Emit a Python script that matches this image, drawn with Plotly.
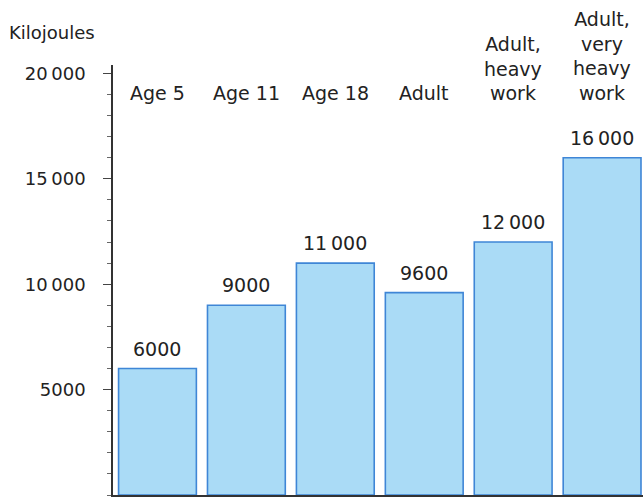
import plotly.graph_objects as go

categories = ["Age 5", "Age 11", "Age 18", "Adult", "Adult,<br>heavy<br>work", "Adult,<br>very<br>heavy<br>work"]
values = [6000, 9000, 11000, 9600, 12000, 16000]
value_labels = ["6000", "9000", "11\u2009000", "9600", "12\u2009000", "16\u2009000"]
tick_vals = [5000, 10000, 15000, 20000]
tick_text = ["5000", "10\u2009000", "15\u2009000", "20\u2009000"]

FONT = "DejaVu Sans"
TXT = "#222222"
xs = list(range(len(categories)))

fig = go.Figure()
fig.add_trace(go.Bar(
    x=xs, y=values, width=0.875,
    marker=dict(color="#aadbf6", line=dict(color="#3f86d6", width=1.6)),
    hoverinfo="skip",
))

for i, (v, lab) in enumerate(zip(values, value_labels)):
    fig.add_annotation(x=i, y=v, text=lab, showarrow=False, yanchor="bottom",
                       yshift=7, font=dict(family=FONT, size=19, color=TXT))

for i, c in enumerate(categories):
    fig.add_annotation(x=i, y=18450, text=c, showarrow=False, yanchor="bottom",
                       font=dict(family=FONT, size=19, color=TXT))

fig.add_annotation(xref="paper", yref="paper", x=-0.2, y=1.0, yshift=20,
                   text="Kilojoules", showarrow=False, xanchor="left", yanchor="bottom",
                   font=dict(family=FONT, size=18, color=TXT))

fig.update_layout(
    width=643, height=499,
    margin=dict(l=113, r=0, t=65, b=4),
    paper_bgcolor="white", plot_bgcolor="white",
    showlegend=False,
    font=dict(family=FONT, size=18, color=TXT),
    xaxis=dict(range=[-0.5, 5.46], showticklabels=False, ticks="", showgrid=False,
               zeroline=False, showline=True, linecolor="#333333", linewidth=2),
    yaxis=dict(range=[0, 20400], tickvals=tick_vals, ticktext=tick_text,
               ticks="outside", ticklen=8, tickwidth=1, tickcolor="#444444",
               ticklabelstandoff=14,
               minor=dict(dtick=1000, ticks="outside", ticklen=4, tickcolor="#666666", tickwidth=1),
               showgrid=False, zeroline=False, showline=True, linecolor="#333333", linewidth=1.5,
               tickfont=dict(family=FONT, size=18, color=TXT)),
)

fig.write_html("out.html", config={"displayModeBar": False},
               post_script="document.body.style.margin='0';document.body.style.overflow='hidden';")
